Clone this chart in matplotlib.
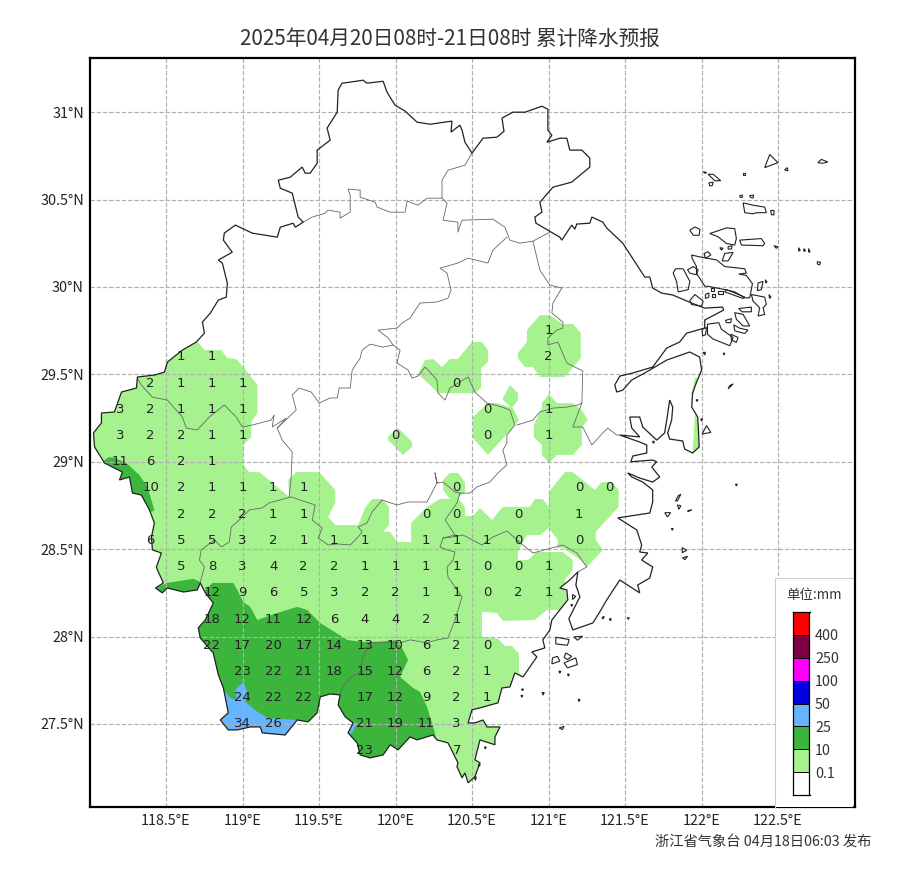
#!/usr/bin/env python3
# -*- coding: utf-8 -*-

import matplotlib
matplotlib.use('Agg')
import matplotlib.pyplot as plt
from matplotlib.patches import PathPatch, Polygon
from matplotlib.path import Path

plt.rcParams['font.family'] = ['Noto Sans CJK SC', 'DejaVu Sans']

TITLE = '2025年04月20日08时-21日08时 累计降水预报'
FOOTER = '浙江省气象台 04月18日06:03 发布'

# 图例
LEGEND_COLORS = ['#ffffff', '#a6f28f', '#3cb53c', '#66b3ff', '#0000e1', '#ff00ff', '#7f0040', '#ff0000']
LEGEND_LEVELS = ['0.1', '10', '25', '50', '100', '250', '400']

X_TICKS = [118.5, 119, 119.5, 120, 120.5, 121, 121.5, 122, 122.5]
X_LABELS = ['118.5°E', '119°E', '119.5°E', '120°E', '120.5°E', '121°E', '121.5°E', '122°E', '122.5°E']
Y_TICKS = [27.5, 28, 28.5, 29, 29.5, 30, 30.5, 31]
Y_LABELS = ['27.5°N', '28°N', '28.5°N', '29°N', '29.5°N', '30°N', '30.5°N', '31°N']

# 格点预报值
RAIN_LONS = [118.2, 118.4, 118.6, 118.8, 119.0, 119.2, 119.4, 119.6, 119.8, 120.0, 120.2, 120.4, 120.6, 120.8, 121.0, 121.2, 121.4]
RAIN_LATS = [29.75, 29.6, 29.45, 29.3, 29.15, 29.0, 28.85, 28.7, 28.55, 28.4, 28.25, 28.1, 27.95, 27.8, 27.65, 27.5, 27.35]
N = None
RAIN_VALUES = [
    [N, N, N, N, N, N, N, N, N, N, N, N, N, N, 1, N, N],
    [N, N, 1, 1, N, N, N, N, N, N, N, N, N, N, 2, N, N],
    [N, 2, 1, 1, 1, N, N, N, N, N, N, 0, N, N, N, N, N],
    [3, 2, 1, 1, 1, N, N, N, N, N, N, N, 0, N, 1, N, N],
    [3, 2, 2, 1, 1, N, N, N, N, 0, N, N, 0, N, 1, N, N],
    [11, 6, 2, 1, N, N, N, N, N, N, N, N, N, N, N, N, N],
    [N, 10, 2, 1, 1, 1, 1, N, N, N, N, 0, N, N, N, 0, 0],
    [N, N, 2, 2, 2, 1, 1, N, N, N, 0, 0, N, 0, N, 1, N],
    [N, 6, 5, 5, 3, 2, 1, 1, 1, N, 1, 1, 1, 0, N, 0, N],
    [N, N, 5, 8, 3, 4, 2, 2, 1, 1, 1, 1, 0, 0, 1, N, N],
    [N, N, N, 12, 9, 6, 5, 3, 2, 2, 1, 1, 0, 2, 1, N, N],
    [N, N, N, 18, 12, 11, 12, 6, 4, 4, 2, 1, N, N, N, N, N],
    [N, N, N, 22, 17, 20, 17, 14, 13, 10, 6, 2, 0, N, N, N, N],
    [N, N, N, N, 23, 22, 21, 18, 15, 12, 6, 2, 1, N, N, N, N],
    [N, N, N, N, 24, 22, 22, N, 17, 12, 9, 2, 1, N, N, N, N],
    [N, N, N, N, 34, 26, N, N, 21, 19, 11, 3, N, N, N, N, N],
    [N, N, N, N, N, N, N, N, 23, N, N, 7, N, N, N, N, N],
]

# 省界
PROVINCE = [
    (119.625, 31.126), (119.651, 31.166), (119.704, 31.172), (119.788, 31.183), (119.814, 31.166), (119.919, 31.177),
    (119.945, 31.114), (119.997, 31.04), (120.063, 31.006), (120.141, 30.943), (120.226, 30.931), (120.369, 30.949),
    (120.363, 30.886), (120.421, 30.926), (120.435, 30.897), (120.454, 30.828), (120.5, 30.766), (120.572, 30.851),
    (120.663, 30.857), (120.709, 30.891), (120.696, 30.966), (120.767, 31.0), (120.846, 31.0), (120.957, 31.034),
    (120.996, 31.017), (120.996, 30.897), (121.022, 30.868), (120.989, 30.828), (121.074, 30.851), (121.12, 30.851),
    (121.139, 30.783), (121.218, 30.783), (121.27, 30.737), (121.27, 30.686), (121.152, 30.6), (121.029, 30.571),
    (120.944, 30.485), (120.957, 30.428), (120.911, 30.4), (120.918, 30.365), (121.074, 30.285), (121.087, 30.268),
    (121.152, 30.354), (121.172, 30.331), (121.185, 30.36), (121.27, 30.365), (121.283, 30.4), (121.355, 30.371),
    (121.381, 30.337), (121.485, 30.251), (121.629, 30.057), (121.662, 30.057), (121.681, 29.994), (121.74, 29.965),
    (121.812, 29.954), (121.936, 29.908), (122.021, 29.879), (122.138, 29.885), (122.145, 29.868), (122.021, 29.811),
    (122.021, 29.765), (121.903, 29.736), (121.857, 29.685), (121.773, 29.651), (121.681, 29.542), (121.551, 29.508),
    (121.466, 29.49), (121.433, 29.439), (121.446, 29.399), (121.485, 29.41), (121.544, 29.468), (121.629, 29.508),
    (121.773, 29.582), (121.923, 29.628), (121.988, 29.599), (122.001, 29.525), (121.968, 29.456), (121.942, 29.393),
    (121.936, 29.313), (121.975, 29.256), (121.98, 29.182), (121.985, 29.085), (121.942, 29.05), (121.89, 29.073),
    (121.877, 29.119), (121.792, 29.13), (121.779, 29.165), (121.805, 29.239), (121.812, 29.313), (121.792, 29.353),
    (121.773, 29.239), (121.759, 29.165), (121.707, 29.124), (121.616, 29.199), (121.596, 29.256), (121.531, 29.256),
    (121.544, 29.193), (121.596, 29.142), (121.466, 29.153), (121.596, 29.113), (121.642, 29.096), (121.642, 29.05),
    (121.551, 29.033), (121.538, 29.0), (121.681, 29.01), (121.707, 29.0), (121.675, 28.97), (121.727, 28.913),
    (121.681, 28.884), (121.596, 28.907), (121.518, 28.936), (121.544, 28.913), (121.616, 28.884), (121.681, 28.839),
    (121.681, 28.77), (121.662, 28.707), (121.453, 28.679), (121.577, 28.61), (121.609, 28.524), (121.596, 28.484),
    (121.649, 28.478), (121.609, 28.438), (121.681, 28.398), (121.662, 28.335), (121.583, 28.295), (121.596, 28.25),
    (121.466, 28.324), (121.381, 28.21), (121.335, 28.141), (121.29, 28.078), (121.159, 28.038), (121.133, 28.102),
    (121.205, 28.227), (121.179, 28.295), (121.192, 28.37), (121.139, 28.324), (121.074, 28.278), (121.12, 28.267),
    (121.126, 28.21), (121.022, 28.095), (121.009, 28.038), (120.963, 27.981), (120.976, 27.935), (120.891, 27.912),
    (120.924, 27.884), (120.833, 27.769), (120.78, 27.792), (120.748, 27.712), (120.696, 27.706), (120.67, 27.621),
    (120.552, 27.592), (120.5, 27.581), (120.474, 27.506), (120.519, 27.506), (120.572, 27.523), (120.598, 27.483),
    (120.683, 27.483), (120.65, 27.426), (120.65, 27.381), (120.552, 27.409), (120.519, 27.295), (120.552, 27.278),
    (120.519, 27.198), (120.474, 27.163), (120.454, 27.22), (120.435, 27.192), (120.402, 27.255), (120.408, 27.278),
    (120.343, 27.392), (120.271, 27.409), (120.245, 27.437), (120.141, 27.409), (120.095, 27.426), (120.017, 27.352),
    (119.965, 27.381), (119.919, 27.323), (119.834, 27.306), (119.769, 27.323), (119.749, 27.392), (119.69, 27.449),
    (119.723, 27.506), (119.671, 27.541), (119.625, 27.609), (119.638, 27.666), (119.573, 27.672), (119.508, 27.655),
    (119.488, 27.564), (119.429, 27.512), (119.358, 27.523), (119.279, 27.437), (119.129, 27.449), (119.116, 27.483),
    (119.051, 27.483), (118.966, 27.466), (118.907, 27.466), (118.855, 27.523), (118.907, 27.564), (118.875, 27.706),
    (118.842, 27.781), (118.809, 27.906), (118.724, 27.992), (118.711, 28.05), (118.757, 28.095), (118.809, 28.192),
    (118.757, 28.25), (118.724, 28.307), (118.705, 28.267), (118.614, 28.255), (118.509, 28.278), (118.476, 28.25),
    (118.431, 28.278), (118.483, 28.307), (118.444, 28.381), (118.437, 28.398), (118.47, 28.478), (118.411, 28.496),
    (118.405, 28.57), (118.424, 28.65), (118.392, 28.724), (118.339, 28.81), (118.281, 28.821), (118.261, 28.913),
    (118.196, 28.896), (118.215, 28.941), (118.098, 28.993), (118.033, 29.085), (118.026, 29.165), (118.078, 29.222),
    (118.078, 29.279), (118.163, 29.285), (118.209, 29.399), (118.307, 29.422), (118.313, 29.485), (118.424, 29.496),
    (118.49, 29.513), (118.509, 29.57), (118.607, 29.639), (118.698, 29.685), (118.751, 29.736), (118.738, 29.799),
    (118.79, 29.851), (118.842, 29.925), (118.894, 29.942), (118.901, 30.022), (118.868, 30.137), (118.842, 30.154),
    (118.933, 30.199), (118.875, 30.268), (118.881, 30.308), (118.953, 30.354), (119.064, 30.308), (119.227, 30.285),
    (119.247, 30.342), (119.331, 30.365), (119.345, 30.342), (119.397, 30.371), (119.364, 30.4), (119.325, 30.537),
    (119.247, 30.565), (119.234, 30.611), (119.312, 30.628), (119.39, 30.686), (119.41, 30.651), (119.442, 30.651),
    (119.488, 30.708), (119.488, 30.783), (119.573, 30.84), (119.553, 30.909), (119.619, 31.0),
]

# 地市界
CITY_LINES = [
    [(119.397, 30.371), (119.456, 30.4), (119.54, 30.422), (119.56, 30.44), (119.638, 30.428), (119.638, 30.394),
     (119.704, 30.428), (119.704, 30.525), (119.69, 30.56), (119.769, 30.554), (119.769, 30.514), (119.867, 30.485),
     (119.88, 30.457), (119.965, 30.428), (120.063, 30.428), (120.076, 30.491), (120.147, 30.468), (120.206, 30.508),
     (120.304, 30.508), (120.304, 30.611), (120.343, 30.668), (120.454, 30.697), (120.5, 30.766)],
    [(120.304, 30.508), (120.337, 30.48), (120.311, 30.382), (120.408, 30.371), (120.408, 30.314), (120.435, 30.382),
     (120.637, 30.388), (120.715, 30.342), (120.748, 30.268), (120.813, 30.251), (120.898, 30.262), (121.009, 30.314)],
    [(120.728, 30.285), (120.637, 30.211), (120.604, 30.137), (120.474, 30.165), (120.408, 30.137), (120.291, 30.108),
     (120.337, 30.079), (120.363, 29.982), (120.343, 29.936), (120.271, 29.914), (120.16, 29.908), (120.095, 29.822),
     (120.043, 29.794), (120.01, 29.765), (119.886, 29.753), (119.952, 29.708), (119.984, 29.668), (120.03, 29.639),
     (120.01, 29.565), (120.082, 29.525), (120.108, 29.479), (120.147, 29.49), (120.193, 29.542), (120.226, 29.513),
     (120.271, 29.468), (120.278, 29.393), (120.324, 29.353), (120.356, 29.422), (120.474, 29.485), (120.519, 29.399),
     (120.598, 29.336), (120.696, 29.313), (120.748, 29.296), (120.78, 29.21), (120.728, 29.153), (120.728, 29.107),
     (120.702, 29.067), (120.728, 28.982), (120.67, 28.936), (120.617, 28.884), (120.532, 28.856), (120.487, 28.821),
     (120.421, 28.821), (120.389, 28.827), (120.311, 28.884), (120.271, 28.879), (120.258, 28.936), (120.271, 28.879),
     (120.206, 28.77), (120.082, 28.77), (120.01, 28.753), (119.912, 28.781), (119.847, 28.713), (119.814, 28.65),
     (119.756, 28.627), (119.782, 28.6), (119.756, 28.57), (119.704, 28.524), (119.619, 28.53), (119.56, 28.524),
     (119.495, 28.564), (119.521, 28.621), (119.456, 28.667), (119.475, 28.753), (119.377, 28.781), (119.318, 28.799),
     (119.175, 28.765), (119.129, 28.736), (119.044, 28.724), (118.979, 28.667), (118.927, 28.627), (118.914, 28.541),
     (118.862, 28.513), (118.816, 28.553), (118.731, 28.496), (118.718, 28.438), (118.751, 28.398), (118.731, 28.335),
     (118.724, 28.307)],
    [(120.898, 30.262), (120.944, 30.096), (121.009, 30.011), (121.087, 29.994), (121.029, 29.908), (121.022, 29.851),
     (121.094, 29.799), (121.094, 29.765), (121.055, 29.753), (120.996, 29.708), (120.996, 29.668), (121.061, 29.685),
     (121.12, 29.565), (121.224, 29.519), (121.218, 29.336), (121.159, 29.199), (121.224, 29.199), (121.283, 29.096),
     (121.355, 29.165), (121.387, 29.193), (121.446, 29.153), (121.466, 29.153)],
    [(121.218, 29.336), (121.192, 29.325), (121.12, 29.313), (121.029, 29.307), (120.944, 29.285), (120.898, 29.239),
     (120.794, 29.21)],
    [(120.421, 28.821), (120.402, 28.765), (120.324, 28.667), (120.389, 28.581), (120.311, 28.564), (120.291, 28.513),
     (120.337, 28.496), (120.389, 28.484), (120.376, 28.438), (120.337, 28.398), (120.343, 28.341), (120.435, 28.227),
     (120.389, 28.095), (120.343, 27.992), (120.271, 27.981), (120.206, 27.964), (120.095, 27.981), (120.03, 27.964),
     (119.945, 27.97), (119.834, 27.964), (119.788, 27.884), (119.769, 27.798), (119.704, 27.764), (119.651, 27.706),
     (119.638, 27.666)],
    [(120.311, 28.564), (120.376, 28.57), (120.441, 28.581), (120.565, 28.524), (120.637, 28.57), (120.728, 28.604),
     (120.833, 28.524), (120.898, 28.478), (121.094, 28.524), (121.185, 28.478), (121.25, 28.398), (121.192, 28.37)],
    [(118.313, 29.479), (118.339, 29.439), (118.411, 29.37), (118.509, 29.353), (118.607, 29.256), (118.633, 29.193),
     (118.705, 29.182), (118.783, 29.256), (118.881, 29.325), (118.959, 29.256), (118.999, 29.199), (119.064, 29.21),
     (119.188, 29.239), (119.207, 29.268), (119.194, 29.199), (119.286, 29.25), (119.227, 29.193), (119.26, 29.124),
     (119.325, 29.056), (119.318, 28.913), (119.305, 28.799)],
    [(119.227, 29.193), (119.351, 29.296), (119.325, 29.382), (119.371, 29.422), (119.449, 29.399), (119.501, 29.336),
     (119.573, 29.365), (119.619, 29.365), (119.632, 29.422), (119.704, 29.422), (119.717, 29.525), (119.769, 29.593),
     (119.782, 29.639), (119.834, 29.673), (119.919, 29.656), (119.984, 29.668)],
]

# 岛屿
ISLANDS = [
    [(122.413, 30.683), (122.446, 30.758), (122.5, 30.711)],
    [(122.543, 30.67), (122.565, 30.664), (122.561, 30.683)],
    [(122.761, 30.711), (122.783, 30.73), (122.826, 30.715), (122.793, 30.708)],
    [(122.011, 30.66), (122.033, 30.655), (122.025, 30.65)],
    [(122.043, 30.645), (122.076, 30.645), (122.126, 30.608), (122.087, 30.608)],
    [(122.048, 30.595), (122.076, 30.6), (122.07, 30.579), (122.054, 30.579)],
    [(122.272, 30.651), (122.287, 30.651), (122.287, 30.64), (122.272, 30.64)],
    [(122.25, 30.523), (122.267, 30.526), (122.267, 30.513), (122.252, 30.513)],
    [(122.315, 30.523), (122.341, 30.526), (122.337, 30.509), (122.32, 30.513)],
    [(122.272, 30.481), (122.348, 30.466), (122.413, 30.457), (122.424, 30.425), (122.359, 30.425), (122.337, 30.419), (122.283, 30.425)],
    [(122.452, 30.438), (122.474, 30.438), (122.474, 30.413), (122.457, 30.413)],
    [(121.924, 30.325), (121.957, 30.343), (121.989, 30.33), (121.985, 30.296), (121.946, 30.296)],
    [(122.054, 30.306), (122.12, 30.325), (122.163, 30.338), (122.217, 30.334), (122.228, 30.277), (122.217, 30.24), (122.163, 30.249), (122.109, 30.287)],
    [(122.25, 30.268), (122.391, 30.277), (122.413, 30.249), (122.402, 30.236), (122.261, 30.24)],
    [(122.12, 30.225), (122.141, 30.221), (122.13, 30.211)],
    [(122.174, 30.23), (122.2, 30.236), (122.196, 30.217), (122.174, 30.217)],
    [(122.017, 30.192), (122.043, 30.202), (122.061, 30.183), (122.026, 30.164)],
    [(122.152, 30.192), (122.207, 30.198), (122.174, 30.149), (122.135, 30.149)],
    [(122.474, 30.236), (122.5, 30.23), (122.489, 30.221)],
    [(122.635, 30.225), (122.645, 30.21), (122.635, 30.205)],
    [(122.67, 30.22), (122.68, 30.205), (122.668, 30.205)],
    [(122.7, 30.22), (122.71, 30.2), (122.7, 30.2)],
    [(122.757, 30.145), (122.778, 30.142), (122.772, 30.126), (122.757, 30.132)],
    [(121.935, 30.183), (121.978, 30.174), (122.098, 30.155), (122.152, 30.117), (122.283, 30.104), (122.293, 30.079), (122.243, 30.074),
     (122.293, 30.066), (122.333, 30.019), (122.315, 29.938), (122.283, 29.938), (122.217, 29.972), (122.152, 29.985), (122.043, 30.004),
     (122.022, 30.004), (121.967, 30.079), (121.967, 30.117), (121.939, 30.164)],
    [(121.83, 30.104), (121.88, 30.104), (121.924, 30.032), (121.913, 29.985), (121.848, 29.972), (121.837, 30.032), (121.815, 30.079)],
    [(121.909, 30.098), (121.946, 30.117), (121.978, 30.098), (121.967, 30.07), (121.924, 30.079)],
    [(121.924, 29.923), (121.957, 29.957), (122.011, 29.919), (122.0, 29.891), (121.935, 29.9)],
    [(122.026, 29.957), (122.048, 29.966), (122.048, 29.942), (122.026, 29.934)],
    [(122.061, 29.994), (122.083, 29.994), (122.083, 29.979), (122.061, 29.979)],
    [(122.109, 29.979), (122.141, 29.979), (122.141, 29.957), (122.109, 29.957)],
    [(122.07, 29.957), (122.087, 29.957), (122.087, 29.942), (122.07, 29.942)],
    [(122.163, 29.985), (122.283, 29.942), (122.272, 29.934), (122.152, 29.972)],
    [(122.326, 29.957), (122.413, 29.942), (122.424, 29.9), (122.402, 29.881), (122.413, 29.843), (122.37, 29.834), (122.38, 29.881), (122.337, 29.919)],
    [(122.37, 30.023), (122.402, 30.032), (122.391, 29.985), (122.365, 29.979)],
    [(122.417, 30.042), (122.428, 30.028), (122.42, 30.023)],
    [(122.441, 29.957), (122.454, 29.942), (122.445, 29.935)],
    [(122.039, 29.787), (122.113, 29.796), (122.13, 29.758), (122.207, 29.711), (122.185, 29.664), (122.076, 29.702), (122.039, 29.73)],
    [(122.004, 29.758), (122.033, 29.768), (122.026, 29.726), (122.007, 29.721)],
    [(122.217, 29.853), (122.272, 29.843), (122.315, 29.777), (122.272, 29.777), (122.228, 29.815)],
    [(122.243, 29.877), (122.326, 29.885), (122.326, 29.858), (122.265, 29.858)],
    [(122.211, 29.783), (122.25, 29.764), (122.304, 29.753), (122.283, 29.734), (122.217, 29.749)],
    [(122.157, 29.809), (122.196, 29.819), (122.191, 29.796), (122.163, 29.796)],
    [(122.191, 29.73), (122.239, 29.711), (122.228, 29.683), (122.196, 29.696)],
    [(122.011, 29.626), (122.026, 29.626), (122.022, 29.611)],
    [(122.141, 29.621), (122.152, 29.621), (122.148, 29.611)],
    [(122.033, 29.207), (122.061, 29.168), (122.004, 29.159)],
    [(122.185, 29.436), (122.207, 29.446), (122.174, 29.417)],
    [(122.222, 28.872), (122.234, 28.872), (122.228, 28.862)],
    [(121.848, 28.805), (121.865, 28.815), (121.843, 28.776), (121.83, 28.776)],
    [(121.843, 28.753), (121.865, 28.748), (121.852, 28.728)],
    [(121.909, 28.719), (121.935, 28.725), (121.913, 28.715)],
    [(121.761, 28.709), (121.798, 28.709), (121.778, 28.684), (121.765, 28.7)],
    [(121.803, 28.618), (121.815, 28.618), (121.809, 28.608)],
    [(121.874, 28.509), (121.902, 28.493), (121.874, 28.48)],
    [(121.876, 28.451), (121.909, 28.459), (121.891, 28.44)],
    [(121.68, 29.117), (121.692, 29.117), (121.686, 29.105)],
    [(121.965, 29.355), (121.977, 29.355), (121.97, 29.345)],
    [(121.995, 29.245), (122.007, 29.245), (122.0, 29.233)],
    [(121.048, 27.996), (121.135, 27.983), (121.124, 27.95), (121.048, 27.958)],
    [(121.167, 27.998), (121.222, 28.002), (121.189, 27.979)],
    [(121.026, 27.878), (121.059, 27.887), (121.074, 27.859), (121.022, 27.844)],
    [(121.113, 27.906), (121.152, 27.887), (121.124, 27.868), (121.102, 27.882)],
    [(121.102, 27.849), (121.178, 27.878), (121.189, 27.84), (121.124, 27.821)],
    [(121.068, 27.802), (121.08, 27.802), (121.074, 27.79)],
    [(121.124, 27.785), (121.136, 27.785), (121.13, 27.773)],
    [(120.958, 27.68), (120.972, 27.68), (120.965, 27.665)],
    [(120.824, 27.7), (120.836, 27.7), (120.83, 27.69)],
    [(120.82, 27.663), (120.832, 27.663), (120.826, 27.653)],
    [(121.194, 27.642), (121.206, 27.64), (121.2, 27.628)],
    [(121.07, 27.477), (121.102, 27.487), (121.091, 27.468)],
    [(120.581, 27.368), (120.593, 27.368), (120.587, 27.358)],
    [(120.542, 27.268), (120.554, 27.268), (120.548, 27.258)],
    [(120.516, 27.197), (120.528, 27.197), (120.522, 27.177)],
    [(121.157, 28.24), (121.178, 28.23), (121.157, 28.212)],
    [(121.146, 28.183), (121.158, 28.183), (121.152, 28.173)],
    [(121.35, 28.11), (121.365, 28.115), (121.355, 28.1)],
    [(121.398, 28.102), (121.41, 28.102), (121.404, 28.09)],
    [(121.516, 28.108), (121.528, 28.108), (121.522, 28.098)],
]

# 降水落区
LIGHT_AREAS = [
    [(118.698, 29.696), (118.751, 29.639), (118.862, 29.639), (118.901, 29.593), (118.959, 29.588), (119.012, 29.536), (119.097, 29.439),
     (119.097, 29.279), (119.057, 29.227), (119.057, 29.142), (119.005, 29.096), (119.005, 28.982), (119.044, 28.941), (119.11, 28.941),
     (119.305, 28.799), (119.299, 28.896), (119.351, 28.941), (119.501, 28.941), (119.606, 28.839), (119.606, 28.765), (119.56, 28.684),
     (119.606, 28.638), (119.756, 28.638), (119.801, 28.736), (119.847, 28.787), (119.912, 28.787), (119.958, 28.742), (119.958, 28.638),
     (119.919, 28.6), (119.965, 28.6), (120.01, 28.541), (120.102, 28.541), (120.102, 28.65), (120.206, 28.742), (120.291, 28.787),
     (120.356, 28.787), (120.311, 28.839), (120.311, 28.896), (120.356, 28.936), (120.408, 28.936), (120.454, 28.884), (120.454, 28.827),
     (120.408, 28.793), (120.454, 28.742), (120.454, 28.69), (120.506, 28.69), (120.552, 28.736), (120.63, 28.667), (120.702, 28.742),
     (120.878, 28.742), (120.911, 28.787), (120.963, 28.787), (121.002, 28.742), (121.002, 28.827), (121.107, 28.941), (121.159, 28.941),
     (121.303, 28.839), (121.348, 28.884), (121.414, 28.884), (121.459, 28.839), (121.459, 28.742), (121.309, 28.6), (121.309, 28.553),
     (121.355, 28.496), (121.25, 28.398), (121.211, 28.438), (121.094, 28.507), (121.055, 28.507), (121.061, 28.553), (121.002, 28.621),
     (120.944, 28.581), (120.859, 28.581), (120.8, 28.484), (120.8, 28.438), (120.865, 28.438), (120.924, 28.484), (121.094, 28.484),
     (121.159, 28.438), (121.159, 28.381), (121.107, 28.324), (121.107, 28.284), (121.126, 28.227), (121.094, 28.152), (120.989, 28.152),
     (120.911, 28.095), (120.702, 28.09), (120.663, 28.135), (120.565, 28.141), (120.565, 28.0), (120.67, 27.987), (120.715, 27.947),
     (120.761, 27.947), (120.807, 27.901), (120.807, 27.798), (120.878, 27.695), (120.878, 27.09), (118.007, 27.09), (118.007, 29.696)],
    [(120.154, 29.513), (120.193, 29.582), (120.245, 29.588), (120.304, 29.542), (120.356, 29.588), (120.408, 29.588), (120.5, 29.685),
     (120.565, 29.685), (120.604, 29.639), (120.604, 29.57), (120.559, 29.536), (120.559, 29.422), (120.519, 29.393), (120.278, 29.393),
     (120.226, 29.439), (120.154, 29.496)],
    [(120.8, 29.622), (120.859, 29.685), (120.859, 29.753), (120.944, 29.839), (121.009, 29.839), (121.094, 29.788), (121.159, 29.788),
     (121.211, 29.736), (121.211, 29.593), (121.107, 29.485), (120.944, 29.485), (120.898, 29.542), (120.846, 29.542), (120.8, 29.593)],
    [(120.702, 29.365), (120.748, 29.439), (120.8, 29.393), (120.8, 29.353), (120.761, 29.307), (120.702, 29.353)],
    [(120.506, 29.256), (120.604, 29.336), (120.663, 29.336), (120.767, 29.307), (120.807, 29.239), (120.78, 29.21), (120.604, 29.039), (120.506, 29.136)],
    [(120.904, 29.21), (120.957, 29.307), (120.957, 29.336), (121.002, 29.388), (121.055, 29.336), (121.159, 29.336), (121.218, 29.296),
     (121.257, 29.239), (121.218, 29.199), (121.218, 29.096), (121.159, 29.039), (121.055, 29.039), (121.002, 28.993), (120.957, 29.039),
     (120.957, 29.096), (120.904, 29.142)],
    [(119.952, 29.142), (120.01, 29.193), (120.03, 29.182), (120.108, 29.113), (120.108, 29.085), (120.049, 29.039), (119.952, 29.124)],
    [(119.234, 30.543), (119.279, 30.548), (119.299, 30.525), (119.266, 30.508), (119.24, 30.525)],
    [(121.955, 29.479), (122.053, 29.479), (122.053, 29.382), (121.929, 29.382)],
    [(121.955, 29.268), (122.053, 29.268), (122.053, 29.01), (121.936, 29.01)],
]
DARK_AREAS = [
    [(118.77, 28.278), (118.803, 28.307), (118.94, 28.307), (118.966, 28.267), (119.005, 28.198), (119.051, 28.17), (119.097, 28.095),
     (119.227, 28.135), (119.358, 28.17), (119.423, 28.152), (119.508, 28.078), (119.684, 27.981), (119.769, 27.97), (119.932, 27.97),
     (120.004, 27.981), (120.049, 27.924), (120.082, 27.867), (120.03, 27.769), (120.115, 27.706), (120.16, 27.684), (120.206, 27.598),
     (120.258, 27.449), (120.271, 27.381), (120.271, 27.09), (118.398, 27.09), (118.398, 27.981), (118.659, 28.095), (118.724, 28.21), (118.757, 28.267)],
    [(118.098, 29.01), (118.13, 29.027), (118.163, 29.022), (118.241, 28.993), (118.326, 28.924), (118.379, 28.856), (118.424, 28.724),
     (118.405, 28.713), (118.268, 28.781), (118.17, 28.867), (118.072, 28.964)],
    [(118.431, 28.278), (118.509, 28.307), (118.679, 28.33), (118.724, 28.313), (118.738, 28.255), (118.679, 28.227), (118.444, 28.227)],
]
BLUE_AREAS = [
    [(118.875, 27.695), (118.92, 27.649), (118.959, 27.638), (118.953, 27.695), (119.005, 27.741), (119.031, 27.684), (119.018, 27.627),
     (119.097, 27.57), (119.162, 27.535), (119.345, 27.523), (119.345, 27.483), (119.279, 27.381), (118.92, 27.381), (118.79, 27.523)],
    [(119.704, 27.512), (119.749, 27.506), (119.717, 27.449), (119.671, 27.437)],
]


def draw_map(ax):
    """画落区、边界和格点数值"""
    province_clip = PathPatch(Path(PROVINCE + [PROVINCE[0]]), transform=ax.transData)

    for areas, color in [(LIGHT_AREAS, LEGEND_COLORS[1]), (DARK_AREAS, LEGEND_COLORS[2]), (BLUE_AREAS, LEGEND_COLORS[3])]:
        for area in areas:
            patch = Polygon(area, closed=True, facecolor=color, edgecolor='none', zorder=1)
            ax.add_patch(patch)
            patch.set_clip_path(province_clip)

    for line in CITY_LINES:
        ax.plot([p[0] for p in line], [p[1] for p in line], color='#666666', lw=0.6, zorder=3)
    ax.add_patch(Polygon(PROVINCE, closed=True, fill=False, edgecolor='#222222', lw=0.9, zorder=4))
    for island in ISLANDS:
        ax.add_patch(Polygon(island, closed=True, fill=False, edgecolor='#222222', lw=0.8, zorder=4))

    for lat, row in zip(RAIN_LATS, RAIN_VALUES):
        for lon, value in zip(RAIN_LONS, row):
            if value is not None:
                ax.text(lon, lat, str(value), ha='center', va='center', fontsize=9.5,
                        family='DejaVu Sans', color='#222222', zorder=5)


def draw_legend(fig):
    """右下角图例"""
    box = fig.add_axes([775 / 900, 1 - 807 / 877, 78 / 900, 229 / 877])
    box.set_xticks([])
    box.set_yticks([])
    box.set_facecolor('white')
    for side in ['bottom', 'right']:
        box.spines[side].set_visible(False)
    for side in ['top', 'left']:
        box.spines[side].set_color('#cccccc')
    box.text(0.5, 0.925, '单位:mm', transform=box.transAxes, ha='center', va='center', fontsize=9.7, color='#333333')

    bar = fig.add_axes([792.5 / 900, 1 - 795 / 877, 17 / 900, 183 / 877])
    bar.bar([0] * len(LEGEND_COLORS), [1] * len(LEGEND_COLORS), bottom=range(len(LEGEND_COLORS)),
            width=1, color=LEGEND_COLORS, edgecolor='black', linewidth=0.7)
    bar.set_xlim(-0.5, 0.5)
    bar.set_ylim(0, len(LEGEND_COLORS))
    bar.set_xticks([])
    bar.yaxis.tick_right()
    bar.set_yticks(range(1, len(LEGEND_COLORS)))
    bar.set_yticklabels(LEGEND_LEVELS, fontsize=10.3, color='#333333')
    bar.tick_params(axis='y', length=0, pad=4)
    for spine in bar.spines.values():
        spine.set_linewidth(0.9)


fig = plt.figure(figsize=(9, 8.77), dpi=100)
ax = fig.add_axes([89.5 / 900, 1 - 807 / 877, 765 / 900, 749 / 877])
ax.set_xlim(118.0, 123.0)
ax.set_ylim(27.025, 31.31)
ax.set_xticks(X_TICKS)
ax.set_xticklabels(X_LABELS, fontsize=10.4, color='#222222')
ax.set_yticks(Y_TICKS)
ax.set_yticklabels(Y_LABELS, fontsize=10.4, color='#222222')
ax.tick_params(axis='x', length=0, pad=5)
ax.tick_params(axis='y', length=0, pad=4)
ax.grid(True, color='#b0b0b0', linestyle='--', linewidth=0.85, zorder=2)
ax.set_axisbelow(False)
for spine in ax.spines.values():
    spine.set_linewidth(1.6)
    spine.set_zorder(10)

draw_map(ax)
draw_legend(fig)

fig.text(450 / 900, 1 - 38.5 / 877, TITLE, ha='center', va='center', fontsize=14.9, color='#333333')
fig.text(871 / 900, 1 - 841.5 / 877, FOOTER, ha='right', va='center', fontsize=10.3, color='#333333')

plt.savefig('out.png', dpi=100)
